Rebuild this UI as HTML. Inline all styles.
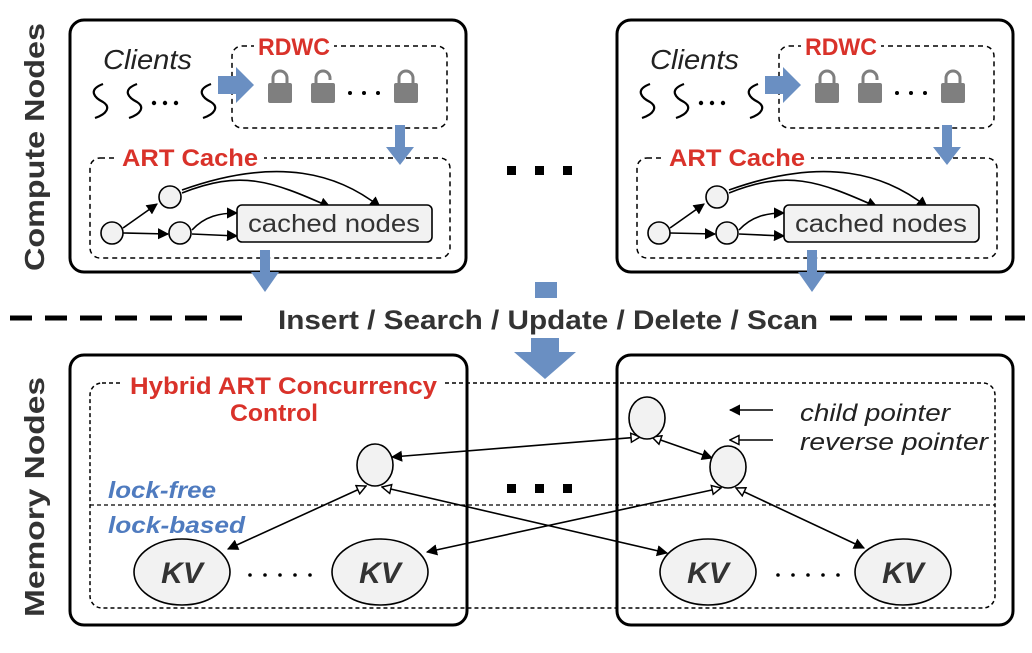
<!DOCTYPE html><html><head><style>body{margin:0;background:#fff}svg{display:block}</style></head><body>
<svg width="1032" height="653" viewBox="0 0 1032 653" xmlns="http://www.w3.org/2000/svg" font-family="Liberation Sans, Arial, sans-serif">
<defs>
<marker id="a" viewBox="0 0 10 10" refX="9" refY="5" markerWidth="7" markerHeight="7" orient="auto-start-reverse"><path d="M0,0L10,5L0,10z" fill="#000"/></marker>
<marker id="o" viewBox="0 0 10 10" refX="9" refY="5" markerWidth="7" markerHeight="7" orient="auto-start-reverse"><path d="M1,1L9,5L1,9z" fill="#fff" stroke="#000" stroke-width="1.3"/></marker>
<g id="top">
<rect x="70" y="20" width="396" height="252" rx="14" fill="none" stroke="#000" stroke-width="3"/>
<text x="103" y="69" font-size="28" font-style="italic" fill="#222" textLength="89" lengthAdjust="spacingAndGlyphs">Clients</text>
<path d="M103,84c-16,6 -8,14 0,18c8,5 4,12 -8,16 M137,84c-16,6 -8,14 0,18c8,5 4,12 -8,16 M211,84c-16,6 -8,14 0,18c8,5 4,12 -8,16" fill="none" stroke="#000" stroke-width="2.2"/>
<g fill="#000"><circle cx="154" cy="103" r="2.2"/><circle cx="165" cy="103" r="2.2"/><circle cx="176" cy="103" r="2.2"/></g>
<rect x="232" y="46" width="215" height="82" rx="10" fill="none" stroke="#000" stroke-width="1.5" stroke-dasharray="5,4"/>
<rect x="254" y="32" width="80" height="22" fill="#fff"/>
<text x="258" y="55" font-size="24" font-weight="bold" fill="#d9322a" textLength="72" lengthAdjust="spacingAndGlyphs">RDWC</text>
<path d="M218,76h18v-9l18,18l-18,18v-9h-18z" fill="#6a8fc2"/>
<g fill="#7f7f7f"><rect x="268" y="83" width="24" height="20" rx="2"/><path d="M273,84v-6a7,7 0 0 1 14,0v6" fill="none" stroke="#7f7f7f" stroke-width="3"/>
<rect x="311" y="83" width="24" height="20" rx="2"/><path d="M316,84v-6a7,7 0 0 1 14,0v2" fill="none" stroke="#7f7f7f" stroke-width="3"/>
<rect x="394" y="83" width="24" height="20" rx="2"/><path d="M399,84v-6a7,7 0 0 1 14,0v6" fill="none" stroke="#7f7f7f" stroke-width="3"/></g>
<g fill="#000"><circle cx="350" cy="93" r="2"/><circle cx="364" cy="93" r="2"/><circle cx="378" cy="93" r="2"/></g>
<rect x="90" y="158" width="360" height="100" rx="10" fill="none" stroke="#000" stroke-width="1.5" stroke-dasharray="5,4"/>
<rect x="116" y="145" width="148" height="22" fill="#fff"/>
<text x="122" y="166" font-size="24" font-weight="bold" fill="#d9322a" textLength="136" lengthAdjust="spacingAndGlyphs">ART Cache</text>
<path d="M395,125h10v22h9l-14,18l-14,-18h9z" fill="#6a8fc2"/>
<path d="M260,250h10v22h9l-14,20l-14,-20h9z" fill="#6a8fc2"/>
<g stroke="#000" stroke-width="1.6" fill="none">
<path d="M123,228L157,204" marker-end="url(#a)"/>
<path d="M123,233L168,234" marker-end="url(#a)"/>
<path d="M182,193C240,170 270,180 330,207" marker-end="url(#a)"/>
<path d="M182,190C280,155 340,175 380,207" marker-end="url(#a)"/>
<path d="M192,230C205,216 220,213 237,213" marker-end="url(#a)"/>
<path d="M192,234L237,236" marker-end="url(#a)"/>
</g>
<g fill="#f2f2f2" stroke="#000" stroke-width="1.6"><circle cx="112" cy="233" r="11"/><circle cx="170" cy="197" r="11"/><circle cx="180" cy="233" r="11"/>
<rect x="237" y="205" width="195" height="37" rx="5"/></g>
<text x="248" y="232" font-size="25" fill="#333" textLength="172" lengthAdjust="spacingAndGlyphs">cached nodes</text>
</g>
</defs>
<use href="#top"/>
<use href="#top" x="547"/>
<g fill="#000"><rect x="507" y="166" width="9" height="9"/><rect x="535" y="166" width="9" height="9"/><rect x="563" y="166" width="9" height="9"/>
<rect x="507" y="484" width="9" height="9"/><rect x="535" y="484" width="9" height="9"/><rect x="563" y="484" width="9" height="9"/></g>
<path d="M10,318H250 M830,318H1025" stroke="#000" stroke-width="5" stroke-dasharray="22,13"/>
<text x="278" y="329" font-size="27" font-weight="bold" fill="#333" textLength="540" lengthAdjust="spacingAndGlyphs">Insert / Search / Update / Delete / Scan</text>
<rect x="535" y="282" width="22" height="16" fill="#6a8fc2"/>
<path d="M531,338h28v14h17l-31,27l-31,-27h17z" fill="#6a8fc2"/>
<rect x="70" y="355" width="397" height="270" rx="14" fill="none" stroke="#000" stroke-width="3"/>
<rect x="617" y="355" width="396" height="270" rx="14" fill="none" stroke="#000" stroke-width="3"/>
<rect x="90" y="383" width="905" height="225" rx="12" fill="none" stroke="#000" stroke-width="1.5" stroke-dasharray="4,3"/>
<rect x="120" y="370" width="325" height="60" fill="#fff"/>
<text x="130" y="394" font-size="24" font-weight="bold" fill="#d9322a" textLength="307" lengthAdjust="spacingAndGlyphs">Hybrid ART Concurrency</text>
<text x="230" y="421" font-size="24" font-weight="bold" fill="#d9322a" textLength="88" lengthAdjust="spacingAndGlyphs">Control</text>
<path d="M90,505H995" stroke="#000" stroke-width="1.2" stroke-dasharray="4,3"/>
<text x="108" y="498" font-size="23" font-weight="bold" font-style="italic" fill="#4f7bbf" textLength="108" lengthAdjust="spacingAndGlyphs">lock-free</text>
<text x="108" y="533" font-size="23" font-weight="bold" font-style="italic" fill="#4f7bbf" textLength="137" lengthAdjust="spacingAndGlyphs">lock-based</text>
<g stroke="#000" stroke-width="1.6" fill="none">
<path d="M640,437L392,457" marker-end="url(#a)" marker-start="url(#o)"/>
<path d="M652,437L712,458" marker-end="url(#a)" marker-start="url(#o)"/>
<path d="M366,486L228,549" marker-end="url(#a)" marker-start="url(#o)"/>
<path d="M382,487L667,553" marker-end="url(#a)" marker-start="url(#o)"/>
<path d="M721,488L427,552" marker-end="url(#a)" marker-start="url(#o)"/>
<path d="M736,488L864,548" marker-end="url(#a)" marker-start="url(#o)"/>
<path d="M773,410H730" marker-end="url(#a)"/>
<path d="M773,440H730" marker-end="url(#o)"/>
</g>
<g fill="#f2f2f2" stroke="#000" stroke-width="1.6">
<ellipse cx="375" cy="465" rx="18" ry="21"/><ellipse cx="647" cy="418" rx="18" ry="21"/><ellipse cx="728" cy="467" rx="18" ry="21"/>
<ellipse cx="182" cy="572" rx="48" ry="33"/><ellipse cx="380" cy="572" rx="48" ry="33"/><ellipse cx="708" cy="572" rx="48" ry="33"/><ellipse cx="903" cy="572" rx="48" ry="33"/>
</g>
<g font-size="30" font-weight="bold" font-style="italic" fill="#333" text-anchor="middle">
<text x="182" y="583">KV</text><text x="380" y="583">KV</text><text x="708" y="583">KV</text><text x="903" y="583">KV</text></g>
<g fill="#000"><circle cx="250" cy="575" r="1.8"/><circle cx="265" cy="575" r="1.8"/><circle cx="280" cy="575" r="1.8"/><circle cx="295" cy="575" r="1.8"/><circle cx="310" cy="575" r="1.8"/>
<circle cx="778" cy="575" r="1.8"/><circle cx="793" cy="575" r="1.8"/><circle cx="808" cy="575" r="1.8"/><circle cx="823" cy="575" r="1.8"/><circle cx="838" cy="575" r="1.8"/></g>
<text x="800" y="421" font-size="24" font-style="italic" fill="#222" textLength="150" lengthAdjust="spacingAndGlyphs">child pointer</text>
<text x="800" y="450" font-size="24" font-style="italic" fill="#222" textLength="188" lengthAdjust="spacingAndGlyphs">reverse pointer</text>
<text transform="translate(44,147) rotate(-90)" font-size="28" font-weight="bold" fill="#333" text-anchor="middle" textLength="248" lengthAdjust="spacingAndGlyphs">Compute Nodes</text>
<text transform="translate(44,497) rotate(-90)" font-size="28" font-weight="bold" fill="#333" text-anchor="middle" textLength="240" lengthAdjust="spacingAndGlyphs">Memory Nodes</text>
</svg>
</body></html>
